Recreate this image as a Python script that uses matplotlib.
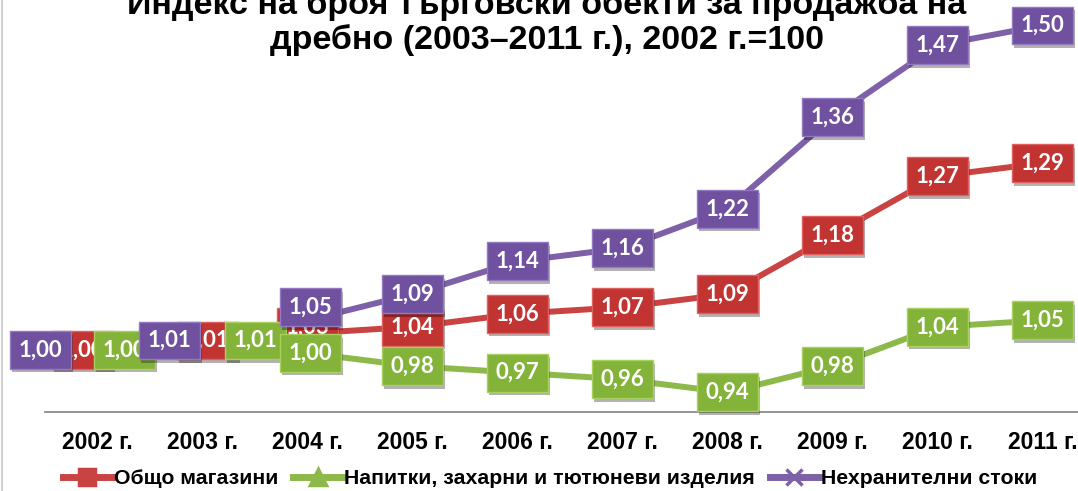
import matplotlib
matplotlib.use("Agg")
import matplotlib.pyplot as plt
import matplotlib.patheffects as pe
from matplotlib.lines import Line2D

# data
years = ['2002 г.', '2003 г.', '2004 г.', '2005 г.', '2006 г.',
         '2007 г.', '2008 г.', '2009 г.', '2010 г.', '2011 г.']
total = [1.00, 1.01, 1.03, 1.04, 1.06, 1.07, 1.09, 1.18, 1.27, 1.29]
drinks = [1.00, 1.01, 1.00, 0.98, 0.97, 0.96, 0.94, 0.98, 1.04, 1.05]
nonfood = [1.00, 1.01, 1.05, 1.09, 1.14, 1.16, 1.22, 1.36, 1.47, 1.50]
names = ['Общо магазини', 'Напитки, захарни и тютюневи изделия', 'Нехранителни стоки']

txt_font = ['Liberation Sans Narrow', 'Liberation Sans', 'DejaVu Sans']
lbl_font = ['Lato', 'DejaVu Sans']

line_cols = ['#C94342', '#8DB84A', '#7D60A8']
box_cols = ['#C23432', '#84B33A', '#6F51A0']
edge_cols = ['#E06060', '#A8D060', '#9479C0']
markers = ['s', '^', 'x']

fig = plt.figure(figsize=(10.78, 4.91), dpi=100)
ax = fig.add_axes([45/1078, 79/491, 1050/1078, 412/491])

x = list(range(len(years)))
series = [total, drinks, nonfood]
for i, s in enumerate(series):
    ax.plot(x, s, color=line_cols[i], lw=4.3, marker=markers[i], ms=8, mew=2,
            solid_capstyle='round', zorder=2)

# label offsets in pixels for the crowded first years
shift = {(0, 0): (-15, 3), (2, 0): (-57, 3), (1, 0): (27, 3),
         (0, 1): (5, 6), (2, 1): (-33, 6), (1, 1): (53, 6),
         (0, 2): (0, 6), (2, 2): (3, 13), (1, 2): (3, 0)}
for i, s in enumerate(series):
    for j, v in enumerate(s):
        dx, dy = shift.get((i, j), (0, 0))
        t = ax.annotate(f'{v:.2f}'.replace('.', ','), (j, v), xytext=(dx, dy),
                        textcoords='offset pixels', ha='center', va='center',
                        color='white', fontsize=16, fontweight='bold', family=lbl_font,
                        zorder=3 if i == 0 else 4,
                        bbox=dict(boxstyle='square,pad=0.38', fc=box_cols[i], ec=edge_cols[i], lw=1))
        t.get_bbox_patch().set_path_effects(
            [pe.withSimplePatchShadow(offset=(1.5, -2.5), alpha=0.3, shadow_rgbFace='k')])

ax.set_xlim(-0.5, 9.5)
ax.set_ylim(0.91, 1.539)
for sp in ['top', 'right', 'left']:
    ax.spines[sp].set_visible(False)
ax.spines['bottom'].set_color('#8C8C8C')
ax.spines['bottom'].set_linewidth(1.3)
ax.set_yticks([])
ax.set_xticks(x)
ax.set_xticklabels(years, fontsize=16.5, fontweight='bold', family=txt_font)
ax.tick_params(axis='x', length=0, pad=14)

# title (top line cut off by the image edge, as in the source)
fig.text(0.507, 1 - 14/491, 'Индекс на броя търговски обекти за продажба на',
         ha='center', va='baseline', fontsize=24.5, fontweight='bold', family=txt_font)
fig.text(0.507, 1 - 49/491, 'дребно (2003–2011 г.), 2002 г.=100',
         ha='center', va='baseline', fontsize=24.5, fontweight='bold', family=txt_font)

handles = [Line2D([], [], color=line_cols[i], lw=5, marker=markers[i], ms=11, mew=2.5)
           for i in range(3)]
fig.legend(handles, names, loc='center', bbox_to_anchor=(550/1078, 1 - 479/491), ncol=3,
           frameon=False, handlelength=2.3, columnspacing=0.7, handletextpad=0.1,
           prop=dict(family=txt_font, weight='bold', size=15.3))

fig.add_artist(Line2D([0.0015, 0.0015], [0, 1], color='#D0D0D0', lw=1.5))

fig.savefig('out.png', dpi=100)
